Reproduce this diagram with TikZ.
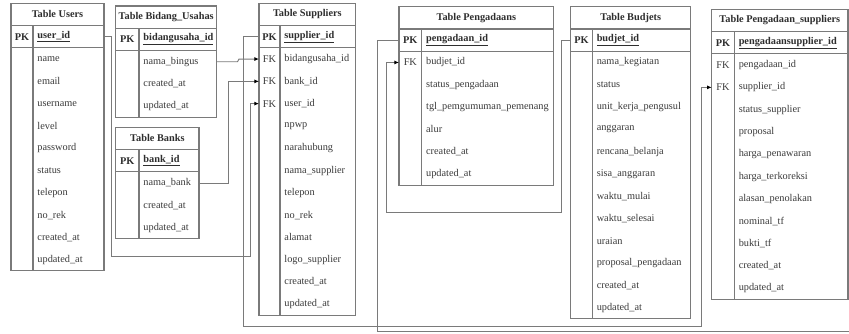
\documentclass[tikz,border=0pt]{standalone}
\usepackage{fontspec}
\setmainfont{Liberation Serif}
\usetikzlibrary{arrows.meta}
\definecolor{lineColor}{HTML}{7A7A7A}
\definecolor{textColor}{HTML}{3A3A3A}
\tikzset{
  tepi/.style={draw=lineColor, line width=0.9pt},
  garis/.style={draw=lineColor, line width=0.8pt},
  relasi/.style={garis, -{Latex[length=4pt,width=3.5pt,color=black]}},
  judul/.style={font=\fontsize{8.8}{10}\selectfont\bfseries, text=textColor!80!black, inner sep=0pt},
  kunci/.style={font=\fontsize{8.8}{10}\selectfont, text=textColor, inner sep=0pt},
  kunciPK/.style={kunci, font=\fontsize{8.8}{10}\selectfont\bfseries, text=textColor!80!black},
  kolom/.style={font=\fontsize{8.8}{10}\selectfont, text=textColor, anchor=west, inner xsep=3.6pt, inner ysep=0pt},
  kolomPK/.style={kolom, font=\fontsize{8.8}{10}\selectfont\bfseries, text=textColor!80!black}
}
% name, left, top, width, key width, title, pk, rows
\newcommand{\erTable}[8]{%
  \coordinate (#1-nw) at (#2,#3);
  \coordinate (#1-ne) at (#2+#4,#3);
  \node[judul] (#1-title) at (#2+#4/2,#3+11.15) {#6};
  \node[kunciPK] (#1-pkk) at (#2+#5/2,#3+33.45) {PK};
  \node[kolomPK] (#1-pk) at (#2+#5,#3+33.45) {\underline{#7}};
  \foreach \k/\f [count=\i] in {#8} {
    \node[kunci] (#1-k\i) at (#2+#5/2,#3+33.45+22.3*\i) {\k};
    \node[kolom] (#1-\i) at (#2+#5,#3+33.45+22.3*\i) {\f};
    \xdef\jumlahBaris{\i}
  }
  \draw[tepi] (#2,#3) rectangle (#2+#4,#3+44.6+22.3*\jumlahBaris);
  \draw[tepi] (#2,#3+22.3) -- ++(#4,0);
  \draw[tepi] (#2,#3+44.6) -- ++(#4,0);
  \draw[tepi] (#2+#5,#3+22.3) -- (#2+#5,#3+44.6+22.3*\jumlahBaris);
}

\begin{document}
\begin{tikzpicture}[x=0.03cm, y=-0.03cm]
  \useasboundingbox (0,0) rectangle (849,333);

  \erTable{users}{11}{3.3}{93}{22}{Table Users}{user\_id}
    {/name, /email, /username, /level, /password, /status, /telepon, /no\_rek, /created\_at, /updated\_at}
  \erTable{bidang}{115.7}{6}{101}{23.3}{Table Bidang\_Usahas}{bidangusaha\_id}
    {/nama\_bingus, /created\_at, /updated\_at}
  \erTable{banks}{115.7}{127.3}{83.3}{23.3}{Table Banks}{bank\_id}
    {/nama\_bank, /created\_at, /updated\_at}
  \erTable{suppliers}{259}{3.3}{96.7}{21}{Table Suppliers}{supplier\_id}
    {FK/bidangusaha\_id, FK/bank\_id, FK/user\_id, /npwp, /narahubung, /nama\_supplier, /telepon, /no\_rek, /alamat, /logo\_supplier, /created\_at, /updated\_at}
  \erTable{pengadaans}{399}{6.7}{154.7}{22.7}{Table Pengadaans}{pengadaan\_id}
    {FK/budjet\_id, /status\_pengadaan, /tgl\_pemgumuman\_pemenang, /alur, /created\_at, /updated\_at}
  \erTable{budjets}{570.7}{6.7}{120}{21.6}{Table Budjets}{budjet\_id}
    {/nama\_kegiatan, /status, /unit\_kerja\_pengusul, /anggaran, /rencana\_belanja, /sisa\_anggaran, /waktu\_mulai, /waktu\_selesai, /uraian, /proposal\_pengadaan, /created\_at, /updated\_at}
  \erTable{ps}{711.7}{9.3}{136.3}{22.6}{Table Pengadaan\_suppliers}{pengadaansupplier\_id}
    {FK/pengadaan\_id, FK/supplier\_id, /status\_supplier, /proposal, /harga\_penawaran, /harga\_terkoreksi, /alasan\_penolakan, /nominal\_tf, /bukti\_tf, /created\_at, /updated\_at}

  \coordinate (ujung) at (849,331.7);

  \draw[relasi] (users-pk -| users-ne) -- ++(7.7,0) |- (250,256.7) |- (suppliers-3 -| suppliers-nw);
  \draw[relasi] (bidang-1 -| bidang-ne) -- ++(20.8,0) -- (239,59.05) -- (suppliers-1 -| suppliers-nw);
  \draw[relasi] (banks-1 -| banks-ne) -- ++(29.3,0) |- (suppliers-2 -| suppliers-nw);
  \draw[relasi] (suppliers-pk -| suppliers-nw) -- ++(-15.7,0) |- (701.7,326.2) |- (ps-2 -| ps-nw);
  \draw[garis] (pengadaans-pk -| pengadaans-nw) -- ++(-21.5,0) |- (ujung);
  \draw[relasi] (budjets-pk -| budjets-nw) -- ++(-9.4,0) |- (386.5,212.5) |- (pengadaans-1 -| pengadaans-nw);
\end{tikzpicture}
\end{document}
